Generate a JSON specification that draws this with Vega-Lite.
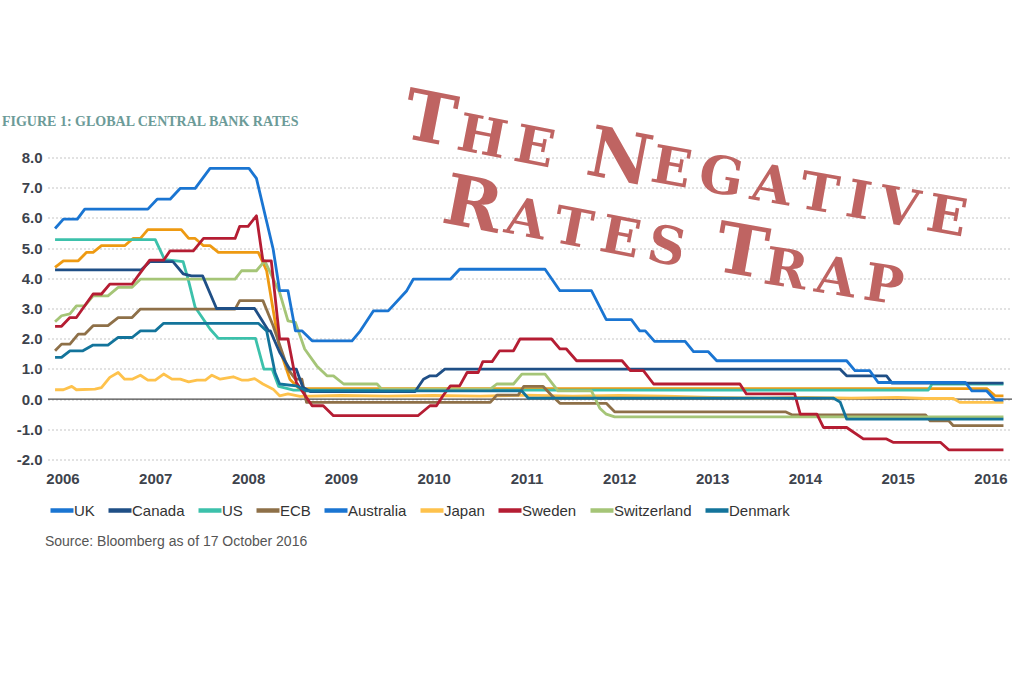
{
  "$schema": "https://vega.github.io/schema/vega-lite/v6.json",
  "width": 964,
  "height": 302,
  "autosize": "none",
  "padding": {"left": 48, "top": 157.5, "right": 12, "bottom": 224.5},
  "background": "white",
  "datasets": {
    "rates": [
      {"series": "Japan", "year": 2005.92, "rate": 0.31}, {"series": "Japan", "year": 2006.01, "rate": 0.31}, {"series": "Japan", "year": 2006.10, "rate": 0.42}, {"series": "Japan", "year": 2006.15, "rate": 0.31}, {"series": "Japan", "year": 2006.35, "rate": 0.33}, {"series": "Japan", "year": 2006.42, "rate": 0.38}, {"series": "Japan", "year": 2006.51, "rate": 0.72}, {"series": "Japan", "year": 2006.60, "rate": 0.88}, {"series": "Japan", "year": 2006.67, "rate": 0.66}, {"series": "Japan", "year": 2006.75, "rate": 0.66}, {"series": "Japan", "year": 2006.84, "rate": 0.79}, {"series": "Japan", "year": 2006.92, "rate": 0.63}, {"series": "Japan", "year": 2007.00, "rate": 0.63}, {"series": "Japan", "year": 2007.09, "rate": 0.83}, {"series": "Japan", "year": 2007.18, "rate": 0.66}, {"series": "Japan", "year": 2007.27, "rate": 0.66}, {"series": "Japan", "year": 2007.36, "rate": 0.57}, {"series": "Japan", "year": 2007.45, "rate": 0.63}, {"series": "Japan", "year": 2007.54, "rate": 0.63}, {"series": "Japan", "year": 2007.61, "rate": 0.79}, {"series": "Japan", "year": 2007.70, "rate": 0.66}, {"series": "Japan", "year": 2007.84, "rate": 0.74}, {"series": "Japan", "year": 2007.93, "rate": 0.63}, {"series": "Japan", "year": 2008.00, "rate": 0.63}, {"series": "Japan", "year": 2008.07, "rate": 0.68}, {"series": "Japan", "year": 2008.16, "rate": 0.5}, {"series": "Japan", "year": 2008.27, "rate": 0.33}, {"series": "Japan", "year": 2008.34, "rate": 0.11}, {"series": "Japan", "year": 2008.43, "rate": 0.17}, {"series": "Japan", "year": 2008.56, "rate": 0.09}, {"series": "Japan", "year": 2009.0, "rate": 0.12}, {"series": "Japan", "year": 2009.5, "rate": 0.1}, {"series": "Japan", "year": 2010.0, "rate": 0.12}, {"series": "Japan", "year": 2010.5, "rate": 0.1}, {"series": "Japan", "year": 2011.0, "rate": 0.13}, {"series": "Japan", "year": 2011.5, "rate": 0.1}, {"series": "Japan", "year": 2012.0, "rate": 0.12}, {"series": "Japan", "year": 2012.5, "rate": 0.1}, {"series": "Japan", "year": 2013.0, "rate": 0.06}, {"series": "Japan", "year": 2013.5, "rate": 0.03}, {"series": "Japan", "year": 2014.0, "rate": 0.06}, {"series": "Japan", "year": 2014.5, "rate": 0.03}, {"series": "Japan", "year": 2015.0, "rate": 0.06}, {"series": "Japan", "year": 2015.3, "rate": 0.02}, {"series": "Japan", "year": 2015.6, "rate": 0.02}, {"series": "Japan", "year": 2015.67, "rate": -0.11}, {"series": "Japan", "year": 2016.14, "rate": -0.11},

      {"series": "UK Bank Rate", "year": 2005.92, "rate": 4.36}, {"series": "UK Bank Rate", "year": 2006.01, "rate": 4.58}, {"series": "UK Bank Rate", "year": 2006.17, "rate": 4.58}, {"series": "UK Bank Rate", "year": 2006.26, "rate": 4.86}, {"series": "UK Bank Rate", "year": 2006.33, "rate": 4.86}, {"series": "UK Bank Rate", "year": 2006.42, "rate": 5.08}, {"series": "UK Bank Rate", "year": 2006.67, "rate": 5.08}, {"series": "UK Bank Rate", "year": 2006.76, "rate": 5.32}, {"series": "UK Bank Rate", "year": 2006.84, "rate": 5.32}, {"series": "UK Bank Rate", "year": 2006.92, "rate": 5.61}, {"series": "UK Bank Rate", "year": 2007.28, "rate": 5.61}, {"series": "UK Bank Rate", "year": 2007.36, "rate": 5.32}, {"series": "UK Bank Rate", "year": 2007.43, "rate": 5.32}, {"series": "UK Bank Rate", "year": 2007.52, "rate": 5.08}, {"series": "UK Bank Rate", "year": 2007.59, "rate": 5.08}, {"series": "UK Bank Rate", "year": 2007.68, "rate": 4.86}, {"series": "UK Bank Rate", "year": 2008.11, "rate": 4.86}, {"series": "UK Bank Rate", "year": 2008.16, "rate": 4.53}, {"series": "UK Bank Rate", "year": 2008.20, "rate": 4.25}, {"series": "UK Bank Rate", "year": 2008.34, "rate": 1.66}, {"series": "UK Bank Rate", "year": 2008.45, "rate": 0.66}, {"series": "UK Bank Rate", "year": 2008.55, "rate": 0.35}, {"series": "UK Bank Rate", "year": 2015.96, "rate": 0.35}, {"series": "UK Bank Rate", "year": 2016.05, "rate": 0.11}, {"series": "UK Bank Rate", "year": 2016.14, "rate": 0.11},

      {"series": "US", "year": 2005.92, "rate": 5.28}, {"series": "US", "year": 2007.00, "rate": 5.28}, {"series": "US", "year": 2007.10, "rate": 4.62}, {"series": "US", "year": 2007.30, "rate": 4.55}, {"series": "US", "year": 2007.36, "rate": 3.9}, {"series": "US", "year": 2007.43, "rate": 3.04}, {"series": "US", "year": 2007.59, "rate": 2.32}, {"series": "US", "year": 2007.68, "rate": 2.01}, {"series": "US", "year": 2008.08, "rate": 2.01}, {"series": "US", "year": 2008.17, "rate": 0.99}, {"series": "US", "year": 2008.26, "rate": 0.99}, {"series": "US", "year": 2008.33, "rate": 0.42}, {"series": "US", "year": 2008.49, "rate": 0.3}, {"series": "US", "year": 2015.33, "rate": 0.3}, {"series": "US", "year": 2015.37, "rate": 0.5}, {"series": "US", "year": 2016.14, "rate": 0.5},

      {"series": "ECB", "year": 2005.92, "rate": 1.60}, {"series": "ECB", "year": 2005.99, "rate": 1.82}, {"series": "ECB", "year": 2006.08, "rate": 1.82}, {"series": "ECB", "year": 2006.17, "rate": 2.15}, {"series": "ECB", "year": 2006.24, "rate": 2.15}, {"series": "ECB", "year": 2006.33, "rate": 2.43}, {"series": "ECB", "year": 2006.49, "rate": 2.43}, {"series": "ECB", "year": 2006.60, "rate": 2.70}, {"series": "ECB", "year": 2006.75, "rate": 2.70}, {"series": "ECB", "year": 2006.84, "rate": 2.98}, {"series": "ECB", "year": 2007.86, "rate": 2.98}, {"series": "ECB", "year": 2007.91, "rate": 3.26}, {"series": "ECB", "year": 2008.16, "rate": 3.26}, {"series": "ECB", "year": 2008.27, "rate": 2.43}, {"series": "ECB", "year": 2008.43, "rate": 0.99}, {"series": "ECB", "year": 2008.51, "rate": 0.66}, {"series": "ECB", "year": 2008.58, "rate": 0.66}, {"series": "ECB", "year": 2008.63, "rate": -0.11}, {"series": "ECB", "year": 2010.61, "rate": -0.11}, {"series": "ECB", "year": 2010.68, "rate": 0.13}, {"series": "ECB", "year": 2010.91, "rate": 0.13}, {"series": "ECB", "year": 2010.97, "rate": 0.42}, {"series": "ECB", "year": 2011.18, "rate": 0.42}, {"series": "ECB", "year": 2011.27, "rate": 0.13}, {"series": "ECB", "year": 2011.36, "rate": -0.14}, {"series": "ECB", "year": 2011.86, "rate": -0.14}, {"series": "ECB", "year": 2011.95, "rate": -0.42}, {"series": "ECB", "year": 2013.79, "rate": -0.42}, {"series": "ECB", "year": 2013.86, "rate": -0.52}, {"series": "ECB", "year": 2015.30, "rate": -0.52}, {"series": "ECB", "year": 2015.35, "rate": -0.72}, {"series": "ECB", "year": 2015.55, "rate": -0.72}, {"series": "ECB", "year": 2015.60, "rate": -0.88}, {"series": "ECB", "year": 2016.14, "rate": -0.88},

      {"series": "Switzerland", "year": 2005.92, "rate": 2.56}, {"series": "Switzerland", "year": 2005.99, "rate": 2.76}, {"series": "Switzerland", "year": 2006.08, "rate": 2.82}, {"series": "Switzerland", "year": 2006.15, "rate": 3.09}, {"series": "Switzerland", "year": 2006.24, "rate": 3.09}, {"series": "Switzerland", "year": 2006.33, "rate": 3.42}, {"series": "Switzerland", "year": 2006.49, "rate": 3.42}, {"series": "Switzerland", "year": 2006.60, "rate": 3.70}, {"series": "Switzerland", "year": 2006.75, "rate": 3.70}, {"series": "Switzerland", "year": 2006.84, "rate": 3.97}, {"series": "Switzerland", "year": 2007.86, "rate": 3.97}, {"series": "Switzerland", "year": 2007.93, "rate": 4.25}, {"series": "Switzerland", "year": 2008.09, "rate": 4.25}, {"series": "Switzerland", "year": 2008.18, "rate": 4.58}, {"series": "Switzerland", "year": 2008.34, "rate": 3.53}, {"series": "Switzerland", "year": 2008.43, "rate": 2.59}, {"series": "Switzerland", "year": 2008.51, "rate": 2.54}, {"series": "Switzerland", "year": 2008.61, "rate": 1.66}, {"series": "Switzerland", "year": 2008.74, "rate": 1.10}, {"series": "Switzerland", "year": 2008.85, "rate": 0.77}, {"series": "Switzerland", "year": 2008.92, "rate": 0.77}, {"series": "Switzerland", "year": 2009.03, "rate": 0.50}, {"series": "Switzerland", "year": 2009.39, "rate": 0.50}, {"series": "Switzerland", "year": 2009.44, "rate": 0.33}, {"series": "Switzerland", "year": 2010.61, "rate": 0.33}, {"series": "Switzerland", "year": 2010.68, "rate": 0.5}, {"series": "Switzerland", "year": 2010.86, "rate": 0.5}, {"series": "Switzerland", "year": 2010.95, "rate": 0.83}, {"series": "Switzerland", "year": 2011.20, "rate": 0.83}, {"series": "Switzerland", "year": 2011.34, "rate": 0.27}, {"series": "Switzerland", "year": 2011.70, "rate": 0.27}, {"series": "Switzerland", "year": 2011.79, "rate": -0.3}, {"series": "Switzerland", "year": 2011.86, "rate": -0.5}, {"series": "Switzerland", "year": 2011.95, "rate": -0.59}, {"series": "Switzerland", "year": 2016.14, "rate": -0.59},

      {"series": "Canada", "year": 2005.92, "rate": 4.28}, {"series": "Canada", "year": 2006.85, "rate": 4.28}, {"series": "Canada", "year": 2006.94, "rate": 4.55}, {"series": "Canada", "year": 2007.19, "rate": 4.55}, {"series": "Canada", "year": 2007.30, "rate": 4.15}, {"series": "Canada", "year": 2007.39, "rate": 4.08}, {"series": "Canada", "year": 2007.51, "rate": 4.08}, {"series": "Canada", "year": 2007.66, "rate": 3.0}, {"series": "Canada", "year": 2008.07, "rate": 3.0}, {"series": "Canada", "year": 2008.22, "rate": 2.26}, {"series": "Canada", "year": 2008.24, "rate": 2.26}, {"series": "Canada", "year": 2008.34, "rate": 1.55}, {"series": "Canada", "year": 2008.45, "rate": 0.99}, {"series": "Canada", "year": 2008.52, "rate": 0.99}, {"series": "Canada", "year": 2008.59, "rate": 0.39}, {"series": "Canada", "year": 2008.67, "rate": 0.25}, {"series": "Canada", "year": 2009.80, "rate": 0.25}, {"series": "Canada", "year": 2009.89, "rate": 0.66}, {"series": "Canada", "year": 2009.96, "rate": 0.77}, {"series": "Canada", "year": 2010.03, "rate": 0.77}, {"series": "Canada", "year": 2010.12, "rate": 0.99}, {"series": "Canada", "year": 2014.38, "rate": 0.99}, {"series": "Canada", "year": 2014.45, "rate": 0.77}, {"series": "Canada", "year": 2014.88, "rate": 0.77}, {"series": "Canada", "year": 2014.94, "rate": 0.53}, {"series": "Canada", "year": 2016.14, "rate": 0.53},

      {"series": "Sweden", "year": 2005.92, "rate": 2.41}, {"series": "Sweden", "year": 2005.99, "rate": 2.41}, {"series": "Sweden", "year": 2006.08, "rate": 2.70}, {"series": "Sweden", "year": 2006.15, "rate": 2.70}, {"series": "Sweden", "year": 2006.24, "rate": 3.09}, {"series": "Sweden", "year": 2006.33, "rate": 3.48}, {"series": "Sweden", "year": 2006.42, "rate": 3.48}, {"series": "Sweden", "year": 2006.51, "rate": 3.81}, {"series": "Sweden", "year": 2006.75, "rate": 3.81}, {"series": "Sweden", "year": 2006.84, "rate": 4.19}, {"series": "Sweden", "year": 2006.94, "rate": 4.6}, {"series": "Sweden", "year": 2007.09, "rate": 4.6}, {"series": "Sweden", "year": 2007.16, "rate": 4.91}, {"series": "Sweden", "year": 2007.41, "rate": 4.91}, {"series": "Sweden", "year": 2007.52, "rate": 5.32}, {"series": "Sweden", "year": 2007.86, "rate": 5.32}, {"series": "Sweden", "year": 2007.91, "rate": 5.72}, {"series": "Sweden", "year": 2008.00, "rate": 5.72}, {"series": "Sweden", "year": 2008.09, "rate": 6.07}, {"series": "Sweden", "year": 2008.16, "rate": 4.58}, {"series": "Sweden", "year": 2008.25, "rate": 4.58}, {"series": "Sweden", "year": 2008.34, "rate": 1.99}, {"series": "Sweden", "year": 2008.43, "rate": 1.99}, {"series": "Sweden", "year": 2008.52, "rate": 0.55}, {"series": "Sweden", "year": 2008.69, "rate": -0.22}, {"series": "Sweden", "year": 2008.81, "rate": -0.22}, {"series": "Sweden", "year": 2008.92, "rate": -0.55}, {"series": "Sweden", "year": 2009.83, "rate": -0.55}, {"series": "Sweden", "year": 2009.96, "rate": -0.22}, {"series": "Sweden", "year": 2010.03, "rate": -0.22}, {"series": "Sweden", "year": 2010.10, "rate": 0.11}, {"series": "Sweden", "year": 2010.18, "rate": 0.44}, {"series": "Sweden", "year": 2010.28, "rate": 0.44}, {"series": "Sweden", "year": 2010.36, "rate": 0.88}, {"series": "Sweden", "year": 2010.48, "rate": 0.88}, {"series": "Sweden", "year": 2010.53, "rate": 1.24}, {"series": "Sweden", "year": 2010.63, "rate": 1.24}, {"series": "Sweden", "year": 2010.71, "rate": 1.60}, {"series": "Sweden", "year": 2010.86, "rate": 1.60}, {"series": "Sweden", "year": 2010.93, "rate": 1.99}, {"series": "Sweden", "year": 2011.27, "rate": 1.99}, {"series": "Sweden", "year": 2011.36, "rate": 1.66}, {"series": "Sweden", "year": 2011.43, "rate": 1.66}, {"series": "Sweden", "year": 2011.54, "rate": 1.27}, {"series": "Sweden", "year": 2012.03, "rate": 1.27}, {"series": "Sweden", "year": 2012.12, "rate": 0.94}, {"series": "Sweden", "year": 2012.26, "rate": 0.94}, {"series": "Sweden", "year": 2012.37, "rate": 0.5}, {"series": "Sweden", "year": 2013.30, "rate": 0.5}, {"series": "Sweden", "year": 2013.37, "rate": 0.17}, {"series": "Sweden", "year": 2013.89, "rate": 0.17}, {"series": "Sweden", "year": 2013.95, "rate": -0.5}, {"series": "Sweden", "year": 2014.13, "rate": -0.5}, {"series": "Sweden", "year": 2014.20, "rate": -0.94}, {"series": "Sweden", "year": 2014.45, "rate": -0.94}, {"series": "Sweden", "year": 2014.63, "rate": -1.32}, {"series": "Sweden", "year": 2014.88, "rate": -1.32}, {"series": "Sweden", "year": 2014.95, "rate": -1.43}, {"series": "Sweden", "year": 2015.46, "rate": -1.43}, {"series": "Sweden", "year": 2015.55, "rate": -1.68}, {"series": "Sweden", "year": 2016.14, "rate": -1.68},

      {"series": "Denmark", "year": 2005.92, "rate": 1.38}, {"series": "Denmark", "year": 2005.99, "rate": 1.38}, {"series": "Denmark", "year": 2006.08, "rate": 1.60}, {"series": "Denmark", "year": 2006.22, "rate": 1.60}, {"series": "Denmark", "year": 2006.33, "rate": 1.79}, {"series": "Denmark", "year": 2006.49, "rate": 1.79}, {"series": "Denmark", "year": 2006.60, "rate": 2.04}, {"series": "Denmark", "year": 2006.75, "rate": 2.04}, {"series": "Denmark", "year": 2006.84, "rate": 2.26}, {"series": "Denmark", "year": 2007.00, "rate": 2.26}, {"series": "Denmark", "year": 2007.09, "rate": 2.51}, {"series": "Denmark", "year": 2008.11, "rate": 2.51}, {"series": "Denmark", "year": 2008.20, "rate": 2.26}, {"series": "Denmark", "year": 2008.29, "rate": 0.88}, {"series": "Denmark", "year": 2008.34, "rate": 0.5}, {"series": "Denmark", "year": 2008.52, "rate": 0.44}, {"series": "Denmark", "year": 2008.63, "rate": 0.27}, {"series": "Denmark", "year": 2010.95, "rate": 0.27}, {"series": "Denmark", "year": 2011.02, "rate": 0.03}, {"series": "Denmark", "year": 2014.31, "rate": 0.03}, {"series": "Denmark", "year": 2014.38, "rate": -0.1}, {"series": "Denmark", "year": 2014.45, "rate": -0.66}, {"series": "Denmark", "year": 2016.14, "rate": -0.66},

      {"series": "Australia", "year": 2005.92, "rate": 5.65}, {"series": "Australia", "year": 2006.01, "rate": 5.96}, {"series": "Australia", "year": 2006.16, "rate": 5.96}, {"series": "Australia", "year": 2006.24, "rate": 6.29}, {"series": "Australia", "year": 2006.92, "rate": 6.29}, {"series": "Australia", "year": 2007.02, "rate": 6.62}, {"series": "Australia", "year": 2007.16, "rate": 6.62}, {"series": "Australia", "year": 2007.27, "rate": 6.98}, {"series": "Australia", "year": 2007.43, "rate": 6.98}, {"series": "Australia", "year": 2007.59, "rate": 7.64}, {"series": "Australia", "year": 2008.01, "rate": 7.64}, {"series": "Australia", "year": 2008.09, "rate": 7.31}, {"series": "Australia", "year": 2008.27, "rate": 4.97}, {"series": "Australia", "year": 2008.34, "rate": 3.59}, {"series": "Australia", "year": 2008.43, "rate": 3.59}, {"series": "Australia", "year": 2008.51, "rate": 2.26}, {"series": "Australia", "year": 2008.58, "rate": 2.26}, {"series": "Australia", "year": 2008.69, "rate": 1.93}, {"series": "Australia", "year": 2009.12, "rate": 1.93}, {"series": "Australia", "year": 2009.21, "rate": 2.26}, {"series": "Australia", "year": 2009.35, "rate": 2.92}, {"series": "Australia", "year": 2009.51, "rate": 2.92}, {"series": "Australia", "year": 2009.71, "rate": 3.59}, {"series": "Australia", "year": 2009.78, "rate": 3.97}, {"series": "Australia", "year": 2010.18, "rate": 3.97}, {"series": "Australia", "year": 2010.28, "rate": 4.30}, {"series": "Australia", "year": 2011.20, "rate": 4.30}, {"series": "Australia", "year": 2011.36, "rate": 3.59}, {"series": "Australia", "year": 2011.70, "rate": 3.59}, {"series": "Australia", "year": 2011.86, "rate": 2.63}, {"series": "Australia", "year": 2012.13, "rate": 2.63}, {"series": "Australia", "year": 2012.22, "rate": 2.26}, {"series": "Australia", "year": 2012.28, "rate": 2.26}, {"series": "Australia", "year": 2012.38, "rate": 1.91}, {"series": "Australia", "year": 2012.71, "rate": 1.91}, {"series": "Australia", "year": 2012.80, "rate": 1.57}, {"series": "Australia", "year": 2012.96, "rate": 1.57}, {"series": "Australia", "year": 2013.05, "rate": 1.27}, {"series": "Australia", "year": 2014.45, "rate": 1.27}, {"series": "Australia", "year": 2014.54, "rate": 0.94}, {"series": "Australia", "year": 2014.70, "rate": 0.94}, {"series": "Australia", "year": 2014.79, "rate": 0.55}, {"series": "Australia", "year": 2015.73, "rate": 0.55}, {"series": "Australia", "year": 2015.80, "rate": 0.27}, {"series": "Australia", "year": 2015.96, "rate": 0.27}, {"series": "Australia", "year": 2016.05, "rate": -0.03}, {"series": "Australia", "year": 2016.14, "rate": -0.03}
    ]
  },
  "layer": [
    {
      "data": {"values": [{}]},
      "mark": {"type": "rule", "color": "#4a4a4a", "strokeWidth": 1.2},
      "encoding": {
        "y": {
          "datum": 0, "type": "quantitative", "title": null,
          "scale": {"domain": [-2, 8], "nice": false, "zero": false},
          "axis": {"values": [-2, -1, 0, 1, 2, 3, 4, 5, 6, 7, 8], "tickCount": 11, "labelExpr": "(datum.value < 0 ? '-' : '') + format(abs(datum.value), '.1f')", "labelOverlap": false, "labelSeparation": -30, "labelBound": false, "grid": true, "gridDash": [1, 3], "gridColor": "#8a8a8a", "gridWidth": 1, "domain": false, "ticks": false, "tickSize": 0, "labelPadding": 6, "labelFont": "Liberation Sans", "labelFontSize": 15, "labelFontWeight": "bold", "labelColor": "#3d434c"}
        }
      }
    },
    {
      "data": {"name": "rates"},
      "mark": {"type": "line", "strokeWidth": 2.8, "strokeJoin": "round"},
      "encoding": {
        "x": {
          "field": "year", "type": "quantitative", "title": null,
          "scale": {"domain": [2005.844, 2016.232], "nice": false, "zero": false},
          "axis": {"values": [2006, 2007, 2008, 2009, 2010, 2011, 2012, 2013, 2014, 2015, 2016], "format": "d", "labelOverlap": false, "grid": false, "domain": false, "ticks": false, "tickSize": 0, "labelPadding": 12, "labelFont": "Liberation Sans", "labelFontSize": 15, "labelFontWeight": "bold", "labelColor": "#3d434c"}
        },
        "y": {
          "field": "rate", "type": "quantitative", "title": null,
          "scale": {"domain": [-2, 8], "nice": false, "zero": false},
          "axis": {"values": [-2, -1, 0, 1, 2, 3, 4, 5, 6, 7, 8], "tickCount": 11, "labelExpr": "(datum.value < 0 ? '-' : '') + format(abs(datum.value), '.1f')", "labelOverlap": false, "labelSeparation": -30, "labelBound": false, "grid": true, "gridDash": [1, 3], "gridColor": "#8a8a8a", "gridWidth": 1, "domain": false, "ticks": false, "tickSize": 0, "labelPadding": 6, "labelFont": "Liberation Sans", "labelFontSize": 15, "labelFontWeight": "bold", "labelColor": "#3d434c"}
        },
        "color": {
          "field": "series", "type": "nominal",
          "scale": {
            "domain": ["UK", "Canada", "US", "ECB", "Australia", "Japan", "Sweden", "Switzerland", "Denmark", "UK Bank Rate"],
            "range": ["#1a75d2", "#1f4f86", "#3cc1ab", "#8e7048", "#1a75d2", "#fec24c", "#b51d33", "#a5c577", "#13749b", "#ee9a12"]
          },
          "legend": {
            "values": ["UK", "Canada", "US", "ECB", "Australia", "Japan", "Sweden", "Switzerland", "Denmark"],
            "orient": "bottom", "direction": "horizontal", "title": null,
            "symbolType": "stroke", "symbolStrokeWidth": 4.5, "symbolSize": 529,
            "labelFont": "Liberation Sans", "labelFontSize": 15, "labelColor": "#333333",
            "labelOffset": -2, "columnPadding": 4, "offset": 10, "padding": 0
          }
        }
      }
    },
    {
      "data": {"values": [{}]},
      "mark": {"type": "text", "text": "FIGURE 1: GLOBAL CENTRAL BANK RATES", "font": "Liberation Serif", "fontWeight": "bold", "fontSize": 14, "align": "left", "baseline": "middle", "color": "#6c9b98"},
      "encoding": {"x": {"datum": 2005.348, "type": "quantitative"}, "y": {"datum": 9.172, "type": "quantitative"}}
    },
    {
      "data": {"values": [{}]},
      "mark": {"type": "text", "text": "Source: Bloomberg as of 17 October 2016", "font": "Liberation Sans", "fontSize": 14, "align": "left", "baseline": "middle", "color": "#555555"},
      "encoding": {"x": {"datum": 2005.811, "type": "quantitative"}, "y": {"datum": -4.735, "type": "quantitative"}}
    },
    {
      "data": {"values": [{}]},
      "mark": {"type": "text", "text": "T", "font": "DejaVu Serif", "fontWeight": "bold", "fontSize": 70, "angle": 11, "align": "left", "baseline": "alphabetic", "color": "#bf6462"},
      "encoding": {"x": {"datum": 2009.637, "type": "quantitative"}, "y": {"datum": 8.675, "type": "quantitative"}}
    },
    {
      "data": {"values": [{}]},
      "mark": {"type": "text", "text": "H\u2006E", "font": "DejaVu Serif", "fontWeight": "bold", "fontSize": 52, "angle": 11, "align": "left", "baseline": "alphabetic", "color": "#bf6462"},
      "encoding": {"x": {"datum": 2010.230, "type": "quantitative"}, "y": {"datum": 8.278, "type": "quantitative"}}
    },
    {
      "data": {"values": [{}]},
      "mark": {"type": "text", "text": "N", "font": "DejaVu Serif", "fontWeight": "bold", "fontSize": 70, "angle": 11, "align": "left", "baseline": "alphabetic", "color": "#bf6462"},
      "encoding": {"x": {"datum": 2011.620, "type": "quantitative"}, "y": {"datum": 7.450, "type": "quantitative"}}
    },
    {
      "data": {"values": [{}]},
      "mark": {"type": "text", "text": "E\u2006G\u2006A\u2006T\u2006I\u2006V\u2006E", "font": "DejaVu Serif", "fontWeight": "bold", "fontSize": 52, "angle": 10, "align": "left", "baseline": "alphabetic", "color": "#bf6462"},
      "encoding": {"x": {"datum": 2012.320, "type": "quantitative"}, "y": {"datum": 7.219, "type": "quantitative"}}
    },
    {
      "data": {"values": [{}]},
      "mark": {"type": "text", "text": "R", "font": "DejaVu Serif", "fontWeight": "bold", "fontSize": 70, "angle": 11, "align": "left", "baseline": "alphabetic", "color": "#bf6462"},
      "encoding": {"x": {"datum": 2010.068, "type": "quantitative"}, "y": {"datum": 5.861, "type": "quantitative"}}
    },
    {
      "data": {"values": [{}]},
      "mark": {"type": "text", "text": "A\u2006T\u2006E\u2006S", "font": "DejaVu Serif", "fontWeight": "bold", "fontSize": 52, "angle": 11, "align": "left", "baseline": "alphabetic", "color": "#bf6462"},
      "encoding": {"x": {"datum": 2010.747, "type": "quantitative"}, "y": {"datum": 5.530, "type": "quantitative"}}
    },
    {
      "data": {"values": [{}]},
      "mark": {"type": "text", "text": "T", "font": "DejaVu Serif", "fontWeight": "bold", "fontSize": 70, "angle": 10, "align": "left", "baseline": "alphabetic", "color": "#bf6462"},
      "encoding": {"x": {"datum": 2012.999, "type": "quantitative"}, "y": {"datum": 4.272, "type": "quantitative"}}
    },
    {
      "data": {"values": [{}]},
      "mark": {"type": "text", "text": "R\u2006A\u2006P", "font": "DejaVu Serif", "fontWeight": "bold", "fontSize": 52, "angle": 9, "align": "left", "baseline": "alphabetic", "color": "#bf6462"},
      "encoding": {"x": {"datum": 2013.538, "type": "quantitative"}, "y": {"datum": 3.841, "type": "quantitative"}}
    }
  ],
  "config": {
    "view": {"stroke": null},
    "font": "Liberation Sans",
    "axis": {"labelOverlap": false},
    "axisY": {"labelOverlap": false},
    "axisQuantitative": {"labelOverlap": false}
  }
}
